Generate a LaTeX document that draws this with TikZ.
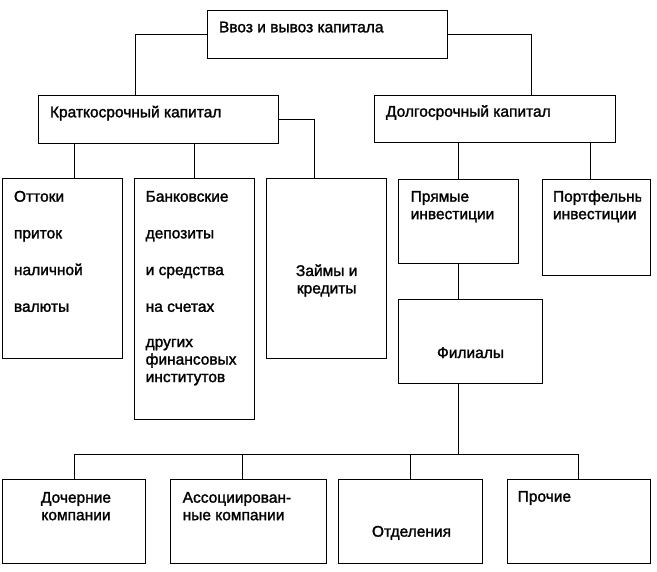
\documentclass[tikz,border=0pt]{standalone}
\usepackage{fontspec}
\setmainfont{Liberation Sans}[FakeBold=1.6]
\usetikzlibrary{calc}
\newcommand\celltxt[2][l]{\begin{tabular}[t]{@{}#1@{}}#2\end{tabular}}
\begin{document}
\begin{tikzpicture}[x=1pt,y=-1pt,
  box/.style={draw, line width=1pt, inner sep=0pt, outer sep=0pt, anchor=north west},
  conn/.style={line width=1pt},
  lbl/.style={inner sep=0pt, outer sep=0pt, anchor=base west, font=\fontsize{15.5}{17.5}\selectfont},
  clbl/.style={lbl, anchor=base}]
\useasboundingbox (0,0) rectangle (657,572);
% boxes
\node[box, minimum width=240pt, minimum height=48pt] (top) at (207,11) {};
\node[box, minimum width=240pt, minimum height=47.5pt] (short) at (38.5,96) {};
\node[box, minimum width=241pt, minimum height=47pt] (long) at (374,96) {};
\node[box, minimum width=119.5pt, minimum height=180pt] (otk) at (2.7,179) {};
\node[box, minimum width=120pt, minimum height=240.3pt] (bank) at (134.3,179) {};
\node[box, minimum width=120pt, minimum height=180pt] (loans) at (266.7,179) {};
\node[box, minimum width=120pt, minimum height=84pt] (direct) at (398.3,179.3) {};
\node[box, minimum width=108.4pt, minimum height=96.4pt] (port) at (542.3,179.3) {};
\node[box, minimum width=144.4pt, minimum height=84pt] (fil) at (398.3,299.3) {};
\node[box, minimum width=143pt, minimum height=84pt] (sub) at (2.7,479.3) {};
\node[box, minimum width=155.3pt, minimum height=84pt] (assoc) at (170.7,479.3) {};
\node[box, minimum width=143.3pt, minimum height=84pt] (otd) at (338.7,479.3) {};
\node[box, minimum width=143.3pt, minimum height=84pt] (proch) at (507,479.3) {};
% texts
\node[lbl] (ttop) at ($(top.north west)+(12,21.3)$) {Ввоз и вывоз капитала};
\node[lbl] (tshort) at ($(short.north west)+(11.5,21.3)$) {Краткосрочный капитал};
\node[lbl] (tlong) at ($(long.north west)+(12,20.7)$) {Долгосрочный капитал};
\node[lbl] (totk) at ($(otk.north west)+(11.3,22.7)$) {\celltxt{Оттоки\\[19.2pt] приток\\[19.2pt] наличной\\[19.2pt] валюты}};
\node[lbl] (tbank) at ($(bank.north west)+(11.4,22.7)$) {\celltxt{Банковские\\[19.2pt] депозиты\\[19.2pt] и средства\\[19.2pt] на счетах\\[17.8pt] других\\ финансовых\\ институтов}};
\node[clbl] (tloans) at ($(loans.north west)+(60,97)$) {\celltxt[c]{Займы и\\ кредиты}};
\node[lbl] (tdirect) at ($(direct.north west)+(12.4,22.4)$) {\celltxt{Прямые\\ инвестиции}};
\begin{scope}
\clip (port.north west) rectangle ($(port.south west)+(98.7,0)$);
\node[lbl] (tport) at ($(port.north west)+(10.7,22.4)$) {\celltxt{Портфельные\\ инвестиции}};
\end{scope}
\node[clbl] (tfil) at ($(fil.north west)+(72.2,58.7)$) {Филиалы};
\node[clbl] (tsub) at ($(sub.north west)+(73.3,23.4)$) {\celltxt[c]{Дочерние\\ компании}};
\node[lbl] (tassoc) at ($(assoc.north west)+(12,23.4)$) {\celltxt{Ассоциирован-\\ ные компании}};
\node[clbl] (totd) at ($(otd.north west)+(72.8,57.4)$) {Отделения};
\node[lbl] (tproch) at ($(proch.north west)+(10.7,22.4)$) {Прочие};
% connector points
\coordinate (t1) at ($(short.north west)+(96.5,0)$);
\coordinate (t2) at ($(long.north west)+(157,0)$);
\coordinate (s1) at ($(short.south west)+(35.8,0)$);
\coordinate (s3) at ($(loans.north west)+(47.6,0)$);
\coordinate (l2) at ($(port.north west)+(48.4,0)$);
\coordinate (a1) at ($(assoc.north west)+(71.6,0)$);
\coordinate (busy) at (0,455);
% connectors
\draw[conn] (top.west) -| (t1);
\draw[conn] (top.east) -| (t2);
\draw[conn] (s1) -- (s1 |- otk.north);
\draw[conn] (bank.north |- short.south) -- (bank.north);
\draw[conn] (short.east) -| (s3);
\draw[conn] (direct.north |- long.south) -- (direct.north);
\draw[conn] (l2 |- long.south) -- (l2);
\draw[conn] (direct.south) -- (direct.south |- fil.north);
\draw[conn] (direct.south |- fil.south) -- (direct.south |- busy);
\draw[conn] (sub.north) |- (proch.north |- busy) -- (proch.north);
\draw[conn] (a1) -- (a1 |- busy);
\draw[conn] (otd.north) -- (otd.north |- busy);
\end{tikzpicture}
\end{document}
